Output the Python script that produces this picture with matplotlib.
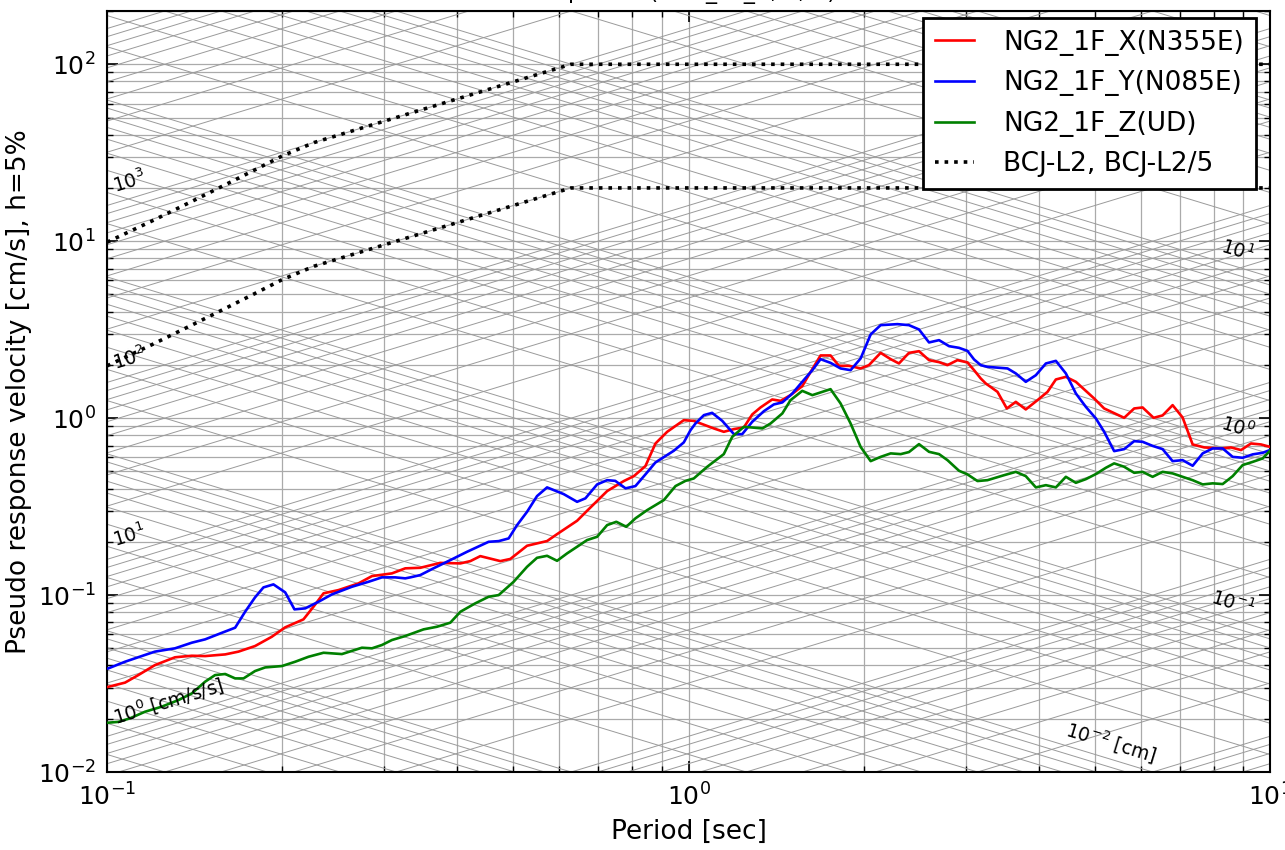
import numpy as np
import matplotlib
matplotlib.use("Agg")
from matplotlib import pyplot as plt

# periods [sec] and pseudo velocity [cm/s]
x_period = [0.1005, 0.1074, 0.1132, 0.1209, 0.1309, 0.1399, 0.1475, 0.1597, 0.1683, 0.1797,
            0.1920, 0.2025, 0.2177, 0.2265, 0.2357, 0.2501, 0.2707, 0.2855, 0.3090, 0.3258,
            0.3457, 0.3742, 0.4053, 0.4216, 0.4385, 0.4747, 0.4939, 0.5277, 0.5712, 0.5943,
            0.6433, 0.6693, 0.7246, 0.7741, 0.8054, 0.8433, 0.8774, 0.9190, 0.9815, 1.021,
            1.049, 1.105, 1.150, 1.197, 1.245, 1.287, 1.330, 1.393, 1.440, 1.498,
            1.569, 1.622, 1.687, 1.755, 1.814, 1.888, 1.977, 2.043, 2.140, 2.227,
            2.301, 2.394, 2.491, 2.592, 2.697, 2.788, 2.901, 3.018, 3.098, 3.181,
            3.245, 3.399, 3.527, 3.655, 3.802, 3.983, 4.144, 4.283, 4.456, 4.636,
            4.984, 5.186, 5.613, 5.840, 6.038, 6.307, 6.536, 6.800, 7.074, 7.362,
            7.708, 8.236, 8.569, 8.916, 9.275, 9.650, 10.0]
x_sv = [0.0303, 0.0320, 0.0353, 0.0402, 0.0445, 0.0454, 0.0452, 0.0462, 0.0479, 0.0515,
        0.0581, 0.0657, 0.0729, 0.0859, 0.1023, 0.1067, 0.1164, 0.1280, 0.1326, 0.1416,
        0.1426, 0.1520, 0.1510, 0.1556, 0.1660, 0.1556, 0.1600, 0.1900, 0.2020, 0.2210,
        0.2630, 0.2995, 0.3870, 0.4410, 0.4700, 0.5360, 0.7190, 0.8370, 0.9740, 0.9650,
        0.933, 0.875, 0.837, 0.867, 0.886, 1.049, 1.149, 1.275, 1.252, 1.349,
        1.516, 1.826, 2.261, 2.261, 1.975, 1.975, 1.909, 1.993, 2.338, 2.154,
        2.037, 2.338, 2.390, 2.127, 2.072, 1.993, 2.127, 2.064, 1.867, 1.676,
        1.570, 1.408, 1.134, 1.236, 1.120, 1.264, 1.408, 1.654, 1.711, 1.604,
        1.292, 1.134, 1.004, 1.134, 1.149, 1.004, 1.036, 1.184, 1.009, 0.710,
        0.683, 0.674, 0.683, 0.660, 0.719, 0.710, 0.688]

y_period = [0.1005, 0.1074, 0.1147, 0.1209, 0.1309, 0.1399, 0.1475, 0.1576, 0.1661, 0.1728,
            0.1797, 0.1858, 0.1933, 0.2025, 0.2101, 0.2192, 0.2311, 0.2437, 0.2637, 0.2817,
            0.2970, 0.3131, 0.3258, 0.3323, 0.3457, 0.3643, 0.3894, 0.4160, 0.4532, 0.4716,
            0.4906, 0.5072, 0.5277, 0.5489, 0.5712, 0.6101, 0.6433, 0.6648, 0.6964, 0.7246,
            0.7483, 0.7794, 0.8104, 0.8433, 0.8774, 0.9434, 0.9815, 1.008, 1.028, 1.063,
            1.098, 1.143, 1.197, 1.237, 1.287, 1.348, 1.402, 1.450, 1.509, 1.569,
            1.633, 1.687, 1.755, 1.826, 1.900, 1.977, 2.057, 2.140, 2.287, 2.394,
            2.491, 2.592, 2.697, 2.806, 2.919, 3.018, 3.098, 3.181, 3.267, 3.537,
            3.655, 3.802, 3.957, 4.117, 4.283, 4.456, 4.636, 4.823, 5.018, 5.186,
            5.395, 5.613, 5.840, 6.038, 6.282, 6.536, 6.800, 7.074, 7.362, 7.660,
            7.969, 8.291, 8.626, 8.975, 9.338, 9.714, 10.0]
y_sv = [0.0385, 0.0420, 0.0452, 0.0479, 0.0500, 0.0538, 0.0562, 0.0612, 0.0654, 0.0805,
        0.0970, 0.1105, 0.1149, 0.1036, 0.0830, 0.0841, 0.0917, 0.1009, 0.1114, 0.1189,
        0.1259, 0.1259, 0.1243, 0.1259, 0.1297, 0.1416, 0.1576, 0.1756, 0.2000, 0.2018,
        0.2090, 0.2486, 0.2955, 0.3625, 0.4060, 0.3720, 0.3366, 0.3520, 0.4220, 0.4460,
        0.4420, 0.4010, 0.4130, 0.4810, 0.5620, 0.6540, 0.7290, 0.8550, 0.9330, 1.040,
        1.071, 0.965, 0.812, 0.812, 0.953, 1.095, 1.195, 1.227, 1.379, 1.604,
        1.867, 2.154, 2.053, 1.909, 1.867, 2.174, 2.971, 3.354, 3.398, 3.354,
        3.171, 2.678, 2.759, 2.551, 2.496, 2.400, 2.146, 1.993, 1.949, 1.909,
        1.789, 1.604, 1.749, 2.037, 2.107, 1.789, 1.379, 1.158, 0.996, 0.837,
        0.651, 0.668, 0.741, 0.735, 0.697, 0.668, 0.5715, 0.579, 0.538, 0.632,
        0.674, 0.674, 0.604, 0.597, 0.624, 0.637, 0.660]

z_period = [0.1005, 0.1046, 0.1095, 0.1162, 0.1242, 0.1327, 0.1399, 0.1475, 0.1534, 0.1597,
            0.1661, 0.1717, 0.1797, 0.1871, 0.1999, 0.2107, 0.2221, 0.2357, 0.2535, 0.2744,
            0.2855, 0.2970, 0.3090, 0.3258, 0.3503, 0.3693, 0.3894, 0.4053, 0.4299, 0.4532,
            0.4716, 0.5004, 0.5277, 0.5489, 0.5712, 0.5943, 0.6183, 0.6433, 0.6693, 0.6964,
            0.7246, 0.7514, 0.7817, 0.8104, 0.8489, 0.9068, 0.9498, 0.988, 1.021, 1.077,
            1.150, 1.189, 1.245, 1.340, 1.384, 1.450, 1.498, 1.569, 1.633, 1.755,
            1.826, 1.900, 1.977, 2.057, 2.140, 2.227, 2.317, 2.394, 2.491, 2.592,
            2.697, 2.788, 2.919, 3.018, 3.140, 3.267, 3.489, 3.655, 3.802, 3.957,
            4.117, 4.283, 4.456, 4.636, 4.823, 5.018, 5.220, 5.395, 5.613, 5.840,
            6.038, 6.282, 6.536, 6.800, 7.074, 7.362, 7.660, 7.969, 8.291, 8.626,
            8.975, 9.338, 9.714, 10.0]
z_sv = [0.0190, 0.0192, 0.0201, 0.0219, 0.0234, 0.0255, 0.0278, 0.0324, 0.0353, 0.0358,
        0.0338, 0.0338, 0.0372, 0.0390, 0.0397, 0.0420, 0.0448, 0.0472, 0.0464, 0.0504,
        0.0500, 0.0522, 0.0557, 0.0587, 0.0640, 0.0662, 0.0698, 0.0805, 0.0898, 0.0978,
        0.1000, 0.1189, 0.1445, 0.1624, 0.1667, 0.1562, 0.1720, 0.1875, 0.2046, 0.2135,
        0.2486, 0.2595, 0.2432, 0.2713, 0.3020, 0.3440, 0.4130, 0.4420, 0.4560, 0.5310,
        0.626, 0.784, 0.893, 0.875, 0.933, 1.063, 1.264, 1.426, 1.349, 1.458,
        1.211, 0.933, 0.688, 0.5715, 0.604, 0.632, 0.626, 0.643, 0.713, 0.645,
        0.626, 0.579, 0.504, 0.481, 0.441, 0.446, 0.476, 0.497, 0.470, 0.406,
        0.418, 0.406, 0.466, 0.431, 0.452, 0.483, 0.524, 0.555, 0.531, 0.491,
        0.497, 0.466, 0.497, 0.487, 0.466, 0.446, 0.422, 0.428, 0.424, 0.470,
        0.543, 0.566, 0.592, 0.654]

# BCJ-L2 design spectrum (h=5%)
bcj_period = [0.10, 0.12, 0.14, 0.16, 0.18, 0.20, 0.227, 0.628, 10.0]
bcj_sv = [9.87, 13.1, 16.8, 20.9, 25.4, 30.3, 36.1, 100.0, 100.0]
bcj_sv_5 = [v / 5 for v in bcj_sv]

labels = ["NG2_1F_X(N355E)", "NG2_1F_Y(N085E)", "NG2_1F_Z(UD)", "BCJ-L2, BCJ-L2/5"]

fig = plt.figure(figsize=(12.85, 8.5), dpi=100)
ax = fig.add_axes([107 / 1285, 1 - 772 / 850, 1163 / 1285, 761 / 850])

xmin, xmax = 0.1, 10.0
ymin, ymax = 0.01, 200.0

# tripartite grid: acceleration (slope +1) and displacement (slope -1) lines
tt = np.array([xmin, xmax])
for n in range(-3, 6):
    for k in range(1, 10):
        acc = k * 10.0 ** n
        ax.plot(tt, acc * tt / (2 * np.pi), color="#9a9a9a", lw=0.7, zorder=1)
for n in range(-4, 4):
    for k in range(1, 10):
        dis = k * 10.0 ** n
        ax.plot(tt, 2 * np.pi * dis / tt, color="#9a9a9a", lw=0.7, zorder=1)

ax.plot(x_period, x_sv, color="r", lw=1.9, label=labels[0], zorder=4)
ax.plot(y_period, y_sv, color="b", lw=1.9, label=labels[1], zorder=4)
ax.plot(z_period, z_sv, color="g", lw=1.9, label=labels[2], zorder=4)
ax.plot(bcj_period, bcj_sv, color="k", ls=":", lw=2.6, label=labels[3], zorder=3)
ax.plot(bcj_period, bcj_sv_5, color="k", ls=":", lw=2.6, zorder=3)

ax.set_xscale("log")
ax.set_yscale("log")
ax.set_xlim(xmin, xmax)
ax.set_ylim(ymin, ymax)

ax.grid(which="both", color="#aaaaaa", lw=0.9, zorder=0)
ax.set_axisbelow(True)

ax.tick_params(which="both", direction="in", top=True, right=True, labelsize=18)
ax.tick_params(which="major", length=8, width=1.2, pad=8)
ax.tick_params(which="minor", length=4, width=1.0)
for sp in ax.spines.values():
    sp.set_linewidth(1.5)

ax.set_xlabel("Period [sec]", fontsize=19, labelpad=6)
ax.set_ylabel("Pseudo response velocity [cm/s], h=5%", fontsize=19, labelpad=4)
ax.set_title("Tripartite (NG2_1F_X, Y, Z)", fontsize=16, pad=9)

# labels of the diagonal lines
ang = np.degrees(np.arctan(177 / 581))
acc_lab = [r"$10^{0}$ [cm/s/s]", r"$10^{1}$", r"$10^{2}$", r"$10^{3}$"]
for i, s in enumerate(acc_lab):
    acc = 10.0 ** i
    t0 = 0.1035
    ax.text(t0, acc * t0 / (2 * np.pi) * 1.13, s, rotation=ang, rotation_mode="anchor",
            ha="left", va="baseline", fontsize=13.5, zorder=5)
dis_lab = [(r"$10^{1}$", 10.0, 9.3), (r"$10^{0}$", 1.0, 9.3),
           (r"$10^{-1}$", 0.1, 9.3), (r"$10^{-2}$ [cm]", 0.01, 6.3)]
for s, dis, t0 in dis_lab:
    ax.text(t0, 2 * np.pi * dis / t0 * 1.13, s, rotation=-ang, rotation_mode="anchor",
            ha="right", va="baseline", fontsize=13.5, zorder=5)

leg = ax.legend(loc="upper right", fontsize=19, fancybox=False, framealpha=1,
                edgecolor="k", labelspacing=0.55, handlelength=1.5, handletextpad=1.1,
                borderpad=0.45, bbox_to_anchor=(0.988, 0.991), borderaxespad=0)
leg.get_frame().set_linewidth(2)
leg.set_zorder(10)

fig.savefig("out.png", dpi=100)
